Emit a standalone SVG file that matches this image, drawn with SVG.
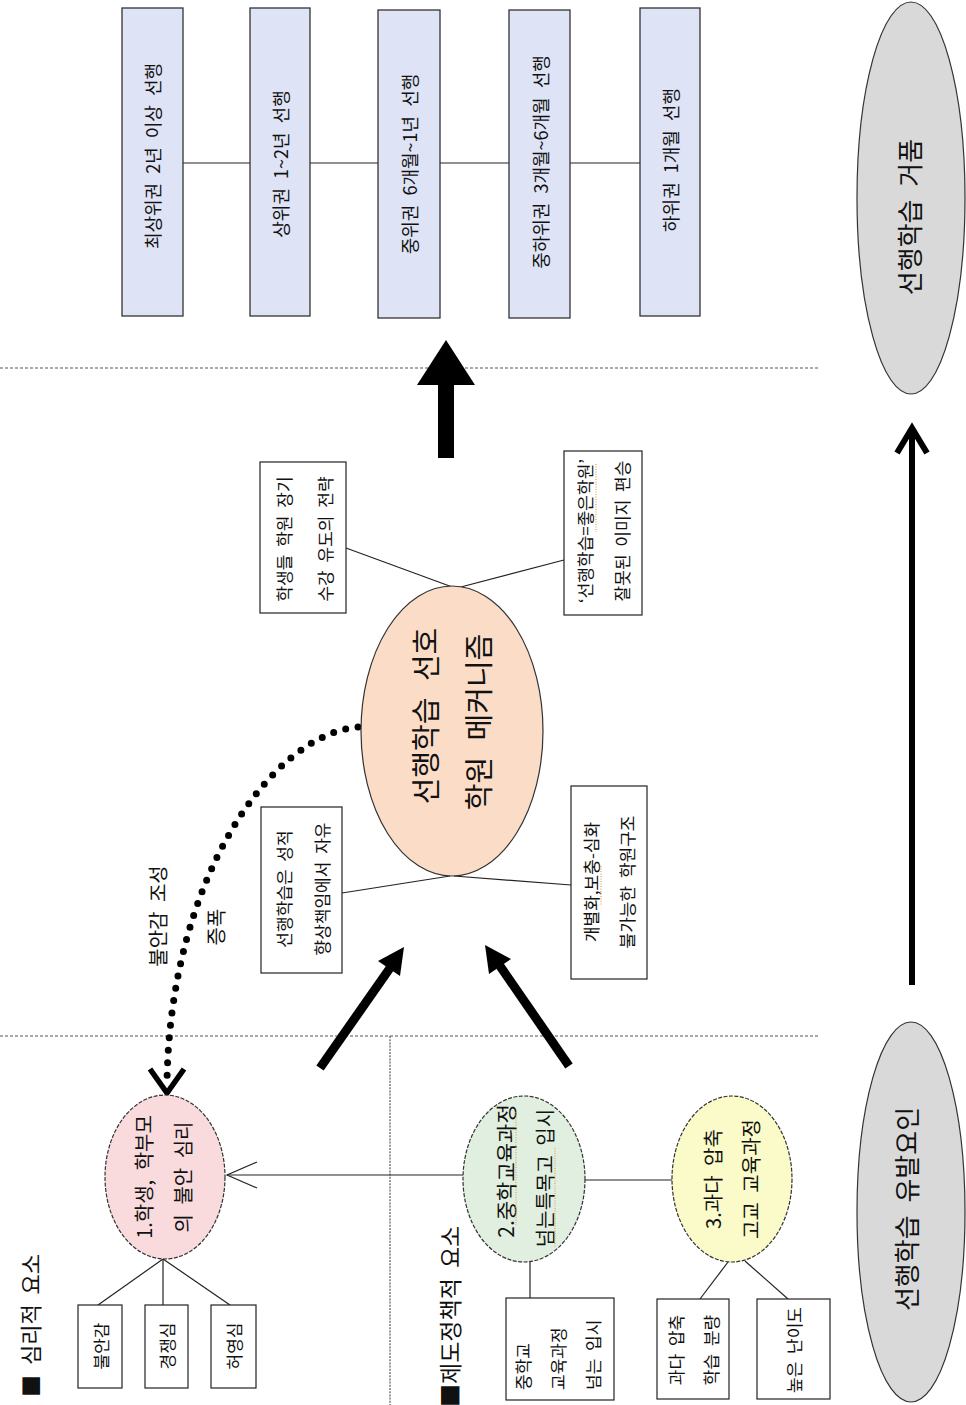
<svg xmlns="http://www.w3.org/2000/svg" width="966" height="1405" viewBox="0 0 966 1405">
<style>
text{font-family:"Noto Sans CJK KR","Noto Sans",sans-serif;fill:#111;text-anchor:middle;dominant-baseline:central;word-spacing:4px}
.s16{font-size:17px}
.s18{font-size:18px;word-spacing:5px}
.s20{font-size:20px;word-spacing:5px}
.s26{font-size:26px;word-spacing:7px}
.s28{font-size:29px;word-spacing:10px}
.tb{fill:#dfe3f6;stroke:#333;stroke-width:1.3}
.bx{fill:#fff;stroke:#222;stroke-width:1.2}
.ln{stroke:#222;stroke-width:1.2;fill:none}
.sep{stroke:#555;stroke-width:1.2;stroke-dasharray:3 2;fill:none}
.dashE{stroke:#333;stroke-width:1.2;stroke-dasharray:4 1.5}
.sq{stroke:#e0a050;stroke-width:1.2;stroke-dasharray:1 1.5;fill:none}
</style>

<g id="connectors">
  <line class="ln" x1="183" y1="163" x2="250" y2="163"/>
  <line class="ln" x1="310" y1="163" x2="378" y2="163"/>
  <line class="ln" x1="440" y1="163" x2="509" y2="163"/>
  <line class="ln" x1="570" y1="163" x2="640" y2="163"/>
  <line class="sep" x1="0" y1="368" x2="820" y2="368"/>
  <line class="sep" x1="0" y1="1036" x2="820" y2="1036"/>
  <line class="sep" x1="390" y1="1036" x2="390" y2="1405" style="stroke-dasharray:2 1.2"/>
  <polygon points="446,340 475,385 454,385 454,458 438,458 438,385 417,385" fill="#000"/>
  <line x1="320" y1="1068" x2="390" y2="968" stroke="#000" stroke-width="9"/>
  <polygon points="404,947 400,976 378,961" fill="#000"/>
  <line x1="569" y1="1066" x2="500" y2="966" stroke="#000" stroke-width="9"/>
  <polygon points="485,945 511,959 489,974" fill="#000"/>
  <line class="ln" x1="346" y1="548" x2="455" y2="588"/>
  <line class="ln" x1="457" y1="588" x2="564" y2="560"/>
  <line class="ln" x1="342" y1="893" x2="450" y2="876"/>
  <line class="ln" x1="454" y1="876" x2="571" y2="885"/>
  <path d="M358,727 C270,735 170,880 167,1082" fill="none" stroke="#000" stroke-width="7" stroke-dasharray="0 12.5" stroke-linecap="round"/>
  <polyline points="150,1069 167,1093 184,1069" fill="none" stroke="#000" stroke-width="5.5"/>
  <line class="ln" x1="163" y1="1259" x2="98" y2="1305"/>
  <line class="ln" x1="163" y1="1259" x2="163" y2="1305"/>
  <line class="ln" x1="163" y1="1259" x2="230" y2="1305"/>
  <line class="ln" x1="463" y1="1175" x2="227" y2="1175"/>
  <polyline class="ln" points="257,1162 227,1175 257,1188"/>
  <line class="ln" x1="672" y1="1180" x2="585" y2="1180"/>
  <line class="ln" x1="530" y1="1262" x2="530" y2="1298"/>
  <line class="ln" x1="728" y1="1262" x2="700" y2="1299"/>
  <line class="ln" x1="745" y1="1261" x2="788" y2="1299"/>
  <line x1="912" y1="985" x2="912" y2="430" stroke="#000" stroke-width="6"/>
  <polyline points="897,453 912,428 927,453" fill="none" stroke="#000" stroke-width="6"/>
</g>

<g id="top1"><rect class="tb" x="122" y="8" width="61" height="308"/><text class="s18" transform="translate(152,156) rotate(-90)">최상위권 2년 이상 선행</text></g>
<g id="top2"><rect class="tb" x="250" y="8" width="60" height="308"/><text class="s18" transform="translate(280,164) rotate(-90)">상위권 1~2년 선행</text></g>
<g id="top3"><rect class="tb" x="378" y="10" width="62" height="308"/><text class="s18" transform="translate(409,164) rotate(-90)">중위권 6개월~1년 선행</text></g>
<g id="top4"><rect class="tb" x="509" y="10" width="61" height="308"/><text class="s18" transform="translate(540,162) rotate(-90)">중하위권 3개월~6개월 선행</text></g>
<g id="top5"><rect class="tb" x="640" y="8" width="60" height="308"/><text class="s18" transform="translate(670,160) rotate(-90)">하위권 1개월 선행</text></g>

<g id="central">
  <ellipse cx="452" cy="731" rx="91" ry="145" fill="#fbdcc6" stroke="#333" stroke-width="1.2"/>
  <text class="s28" transform="translate(424,716) rotate(-90)">선행학습 선호</text>
  <text class="s28" transform="translate(477,722) rotate(-90)">학원 메커니즘</text>
</g>

<g id="boxUL"><rect class="bx" x="260" y="462" width="86" height="151"/>
  <text class="s16" transform="translate(283,539) rotate(-90)">학생들 학원 장기</text>
  <text class="s16" transform="translate(324,539) rotate(-90)">수강 유도의 전략</text></g>
<g id="boxUR"><rect class="bx" x="564" y="451" width="78" height="164"/>
  <text class="s16" transform="translate(584,531) rotate(-90)">‘선행학습=좋은학원’</text>
  <text class="s16" transform="translate(621,531) rotate(-90)">잘못된 이미지 편승</text>
  <line class="sq" x1="596" y1="464" x2="596" y2="532"/></g>
<g id="boxLL"><rect class="bx" x="261" y="807" width="81" height="166"/>
  <text class="s16" transform="translate(283,889) rotate(-90)">선행학습은 성적</text>
  <text class="s16" transform="translate(321,889) rotate(-90)">향상책임에서 자유</text></g>
<g id="boxLR"><rect class="bx" x="571" y="786" width="76" height="193"/>
  <text class="s16" transform="translate(590,882) rotate(-90)">개별화,보충-심화</text>
  <text class="s16" transform="translate(626,882) rotate(-90)">불가능한 학원구조</text>
  <line class="sq" x1="601" y1="866" x2="601" y2="906"/></g>

<g id="labels">
  <text class="s20" transform="translate(157,916) rotate(-90)">불안감 조성</text>
  <text class="s20" transform="translate(215,927) rotate(-90)">증폭</text>
</g>

<g id="psych">
  <ellipse class="dashE" cx="165" cy="1177" rx="60" ry="82" fill="#f9dadd"/>
  <text class="s20" transform="translate(143,1177) rotate(-90)">1.학생, 학부모</text>
  <text class="s20" transform="translate(182,1177) rotate(-90)">의 불안 심리</text>
</g>
<g id="p1"><rect class="bx" x="78" y="1305" width="44" height="83"/><text class="s16" transform="translate(100,1346) rotate(-90)">불안감</text></g>
<g id="p2"><rect class="bx" x="145" y="1305" width="43" height="83"/><text class="s16" transform="translate(166,1346) rotate(-90)">경쟁심</text></g>
<g id="p3"><rect class="bx" x="211" y="1305" width="45" height="83"/><text class="s16" transform="translate(233,1346) rotate(-90)">허영심</text></g>
<g id="title1"><text style="font-size:22px;text-anchor:start;word-spacing:5px" transform="translate(29,1397) rotate(-90)">■ 심리적 요소</text></g>
<g id="title2"><text style="font-size:23px;text-anchor:start;word-spacing:5px" transform="translate(449,1407) rotate(-90)">■제도정책적 요소</text></g>

<g id="inst2">
  <ellipse class="dashE" cx="524" cy="1179" rx="61" ry="83" fill="#e1efe0"/>
  <text class="s20" style="font-size:21px" transform="translate(505,1171) rotate(-90)">2.중학교육과정</text>
  <text class="s20" transform="translate(544,1178) rotate(-90)">넘는특목고 입시</text>
  <line class="sq" x1="516" y1="1112" x2="516" y2="1225"/>
  <line class="sq" x1="555" y1="1148" x2="555" y2="1247"/>
</g>
<g id="inst3">
  <ellipse class="dashE" cx="732" cy="1179" rx="60" ry="83" fill="#fbfbc9"/>
  <text class="s20" transform="translate(712,1179) rotate(-90)">3.과다 압축</text>
  <text class="s20" transform="translate(750,1179) rotate(-90)">고교 교육과정</text>
</g>
<g id="i1"><rect class="bx" x="506" y="1298" width="108" height="102"/>
  <text class="s16" style="text-anchor:start" transform="translate(522,1390) rotate(-90)">중학교</text>
  <text class="s16" style="text-anchor:start" transform="translate(557,1390) rotate(-90)">교육과정</text>
  <text class="s16" style="text-anchor:start" transform="translate(592,1390) rotate(-90)">넘는 입시</text></g>
<g id="i2"><rect class="bx" x="657" y="1299" width="72" height="100"/>
  <text class="s16" transform="translate(675,1350) rotate(-90)">과다 압축</text>
  <text class="s16" transform="translate(710,1350) rotate(-90)">학습 분량</text></g>
<g id="i3"><rect class="bx" x="757" y="1299" width="73" height="100"/>
  <text class="s16" transform="translate(793,1350) rotate(-90)">높은 난이도</text></g>

<g id="bubble"><ellipse cx="911" cy="198" rx="54" ry="196" fill="#d9d9d9" stroke="#333" stroke-width="1.2"/>
  <text class="s26" transform="translate(908,217) rotate(-90)">선행학습 거품</text></g>
<g id="cause"><ellipse cx="911" cy="1212" rx="54" ry="190" fill="#d9d9d9" stroke="#333" stroke-width="1.2"/>
  <text class="s26" transform="translate(905,1209) rotate(-90)">선행학습 유발요인</text></g>
</svg>
